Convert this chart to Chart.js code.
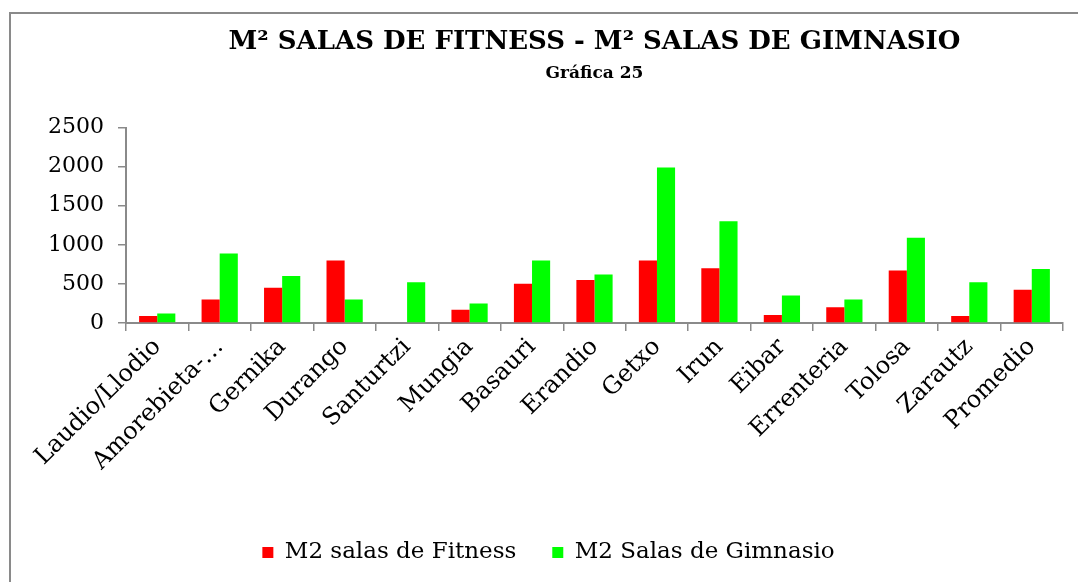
<!DOCTYPE html>
<html>
<head>
<meta charset="utf-8">
<script src="https://cdn.jsdelivr.net/npm/chart.js@4"></script>
<style>
  html, body { margin: 0; padding: 0; background: #fff; overflow: hidden; }
  #wrap { position: relative; width: 1078px; height: 582px; }
  #frame {
    position: absolute; left: 9px; top: 12px; width: 1200px; height: 700px;
    border-left: 2px solid #8a8a8a; border-top: 2px solid #8a8a8a;
  }
  canvas { position: absolute; left: 0; top: 0; }
</style>
</head>
<body>
<div id="wrap">
  <div id="frame"></div>
  <canvas id="myChart" width="1078" height="582"></canvas>
</div>
<script>
// Categories (municipalities) and the two series
const categories = ['Laudio/Llodio', 'Amorebieta-…', 'Gernika', 'Durango', 'Santurtzi', 'Mungia', 'Basauri',
    'Erandio', 'Getxo', 'Irun', 'Eibar', 'Errenteria', 'Tolosa', 'Zarautz', 'Promedio'];
const fitness = [90, 300, 450, 800, 0, 170, 500, 550, 800, 700, 100, 200, 670, 90, 425];
const gimnasio = [120, 890, 600, 300, 520, 250, 800, 620, 1990, 1300, 350, 300, 1090, 520, 690];
const yTicks = [0, 500, 1000, 1500, 2000, 2500];

const serif = "'DejaVu Serif', 'Liberation Serif', serif";
const axisGray = '#8a8a8a';

const data = {
    labels: categories,
    datasets: [
        {
            label: 'M2 salas de Fitness',
            data: fitness,
            backgroundColor: '#ff0000',
            borderWidth: 0
        },
        {
            label: 'M2 Salas de Gimnasio',
            data: gimnasio,
            backgroundColor: '#00ff00',
            borderWidth: 0
        }
    ]
};

const config = {
    type: 'bar',
    data: data,
    options: {
        responsive: false,
        animation: false,
        categoryPercentage: 0.58,
        barPercentage: 1.0,
        layout: {
            padding: { left: 34, right: 15, top: 27, bottom: 8 }
        },
        plugins: {
            title: {
                display: true,
                text: 'M² SALAS DE FITNESS - M² SALAS DE GIMNASIO',
                color: '#000',
                fullSize: false,
                font: { family: serif, size: 26, weight: 'bold' },
                padding: { top: 0, bottom: 0 }
            },
            subtitle: {
                display: true,
                text: 'Gráfica 25',
                color: '#000',
                fullSize: false,
                font: { family: serif, size: 17, weight: 'bold' },
                padding: { top: 5, bottom: 44 }
            },
            legend: {
                position: 'bottom',
                labels: {
                    color: '#000',
                    boxWidth: 11,
                    boxHeight: 11,
                    padding: 36,
                    font: { family: serif, size: 23 }
                }
            },
            tooltip: { enabled: false }
        },
        scales: {
            x: {
                afterFit: (scale) => { scale.height += 27; },
                grid: {
                    display: true,
                    drawOnChartArea: false,
                    offset: true,
                    tickLength: 8,
                    color: axisGray,
                    lineWidth: 1.5
                },
                border: { color: axisGray, width: 2 },
                ticks: {
                    color: '#000',
                    autoSkip: false,
                    minRotation: 45,
                    maxRotation: 45,
                    padding: 2,
                    font: { family: serif, size: 24 }
                }
            },
            y: {
                min: 0,
                max: 2500,
                afterBuildTicks: (scale) => {
                    scale.ticks = yTicks.map(v => ({ value: v }));
                },
                grid: {
                    display: true,
                    drawOnChartArea: false,
                    tickLength: 8,
                    color: axisGray,
                    lineWidth: 1.5
                },
                border: { color: axisGray, width: 2 },
                ticks: {
                    color: '#000',
                    padding: 14,
                    callback: (v) => String(v),
                    font: { family: serif, size: 22 }
                }
            }
        }
    }
};

const myChart = new Chart(document.getElementById('myChart'), config);
</script>
</body>
</html>
